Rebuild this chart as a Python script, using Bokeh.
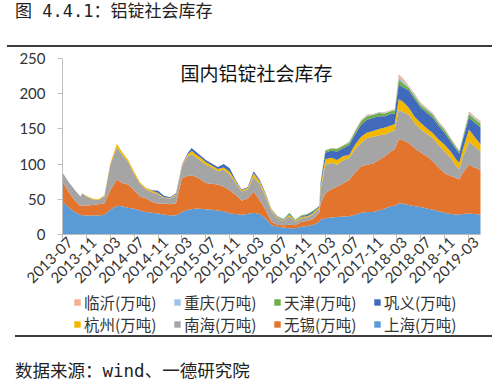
import math
from bokeh.plotting import figure
from bokeh.models import (ColumnDataSource, Range1d, FixedTicker, Legend,
                          LegendItem, Label, Div, LinearAxis)
from bokeh.layouts import column
from bokeh.embed import file_html
from bokeh.resources import INLINE

# ---------------- data (万吨) ----------------
dates = ["2013-07-01", "2013-08-01", "2013-09-01", "2013-10-01", "2013-10-10",
         "2013-11-01", "2013-12-01", "2014-01-01", "2014-02-01", "2014-03-01",
         "2014-04-04", "2014-05-01", "2014-06-01", "2014-07-01", "2014-08-01",
         "2014-09-01", "2014-10-01", "2014-11-01", "2014-12-01", "2015-01-01",
         "2015-02-01", "2015-03-01", "2015-04-01", "2015-04-20", "2015-05-10",
         "2015-06-01", "2015-07-01", "2015-08-01", "2015-09-01", "2015-10-01",
         "2015-11-01", "2015-12-01", "2016-01-01", "2016-02-01", "2016-03-01",
         "2016-04-01", "2016-05-01", "2016-06-01", "2016-07-01", "2016-08-01",
         "2016-09-01", "2016-10-01", "2016-11-01", "2016-12-01", "2017-01-01",
         "2017-02-01", "2017-02-07", "2017-03-01", "2017-04-01", "2017-05-01",
         "2017-06-01", "2017-07-01", "2017-08-01", "2017-09-01", "2017-10-01",
         "2017-11-01", "2017-12-01", "2018-01-01", "2018-02-01", "2018-02-20",
         "2018-03-10", "2018-04-01", "2018-05-01", "2018-06-01", "2018-07-01",
         "2018-08-01", "2018-09-01", "2018-10-01", "2018-11-01", "2018-12-01",
         "2019-01-01", "2019-01-15", "2019-02-01", "2019-03-03", "2019-04-01",
         "2019-05-24"]

shanghai = [47, 39, 32, 28, 27.5, 27, 27, 27, 28, 35,
            41, 40, 38, 36.5, 34, 32, 31, 30, 28, 27.5,
            27, 32, 35, 36, 37, 36.5, 36, 35, 34, 33,
            30, 29, 28, 29, 31, 29, 23, 13, 11, 10,
            9, 9, 11, 12, 14, 18, 21, 23, 24, 25,
            25.5, 26, 28, 31, 32, 32, 34, 37, 40, 41,
            44, 44, 42, 40, 39, 37, 35, 33, 31, 29,
            28.5, 28, 29, 30, 29, 27.5]
wuxi = [28, 22, 17, 12, 14, 14, 15, 16, 16, 28,
        37, 33, 33, 26.5, 20, 19, 15, 14, 16, 15.5,
        17, 48, 48, 48, 45, 42.5, 37, 37, 37, 35,
        33, 27, 20, 22, 30, 20, 12, 5, 2.5, 3,
        5, 4, 7, 7, 8, 13, 22, 35.5, 40, 43,
        47, 51.5, 60, 65.5, 67, 69, 72, 74, 78, 80,
        91, 90, 88, 82, 77, 74, 69, 62, 56, 54,
        51.5, 50, 58, 69, 66, 61.5]
nanhai = [13, 14, 15, 14, 17, 13, 8, 6, 10, 36,
          46, 40, 32, 23, 18, 13, 14, 13, 8, 8,
          12, 17, 28, 30, 28, 27, 26, 23, 19, 24,
          22, 17, 13, 13, 21, 23, 19, 15, 10, 6,
          12, 5, 5, 5, 7, 6, 20, 40.5, 38, 31,
          33, 31, 33, 33.5, 38, 38, 35, 31, 28, 27,
          42, 40, 40, 36, 33, 32, 33, 32, 31, 26,
          16.5, 15, 22, 33, 30, 24]
hangzhou = [0, 0, 0, 0, 0, 1, 1, 1, 1.5, 2,
            5, 4, 3, 3, 2, 2, 2, 2, 1, 1,
            1.5, 1.5, 3, 5, 4, 4, 4, 3, 3, 3,
            4, 2.5, 2, 2, 5, 4, 3, 2, 1.5, 1,
            2, 1, 2, 2, 2, 2, 4, 8, 7, 7,
            6, 4.5, 7, 9, 8, 8, 9, 10, 9, 9,
            15, 15, 10, 9, 9.5, 8, 7, 8, 9.5, 9,
            9.5, 9, 11, 17, 14, 7]
gongyi = [0, 0, 0, 0, 0, 0, 0, 0, 0, 0,
          0, 0, 0, 0, 0, 0, 1, 3, 2, 1,
          1, 0.5, 2, 4, 4, 3, 3, 3, 3, 5,
          5, 2, 1, 1, 3, 2, 1.5, 1, 1, 1,
          1.5, 1, 1, 2, 2, 1, 4, 9, 10, 12,
          11, 14, 14, 17, 18, 19, 18, 16, 16, 15,
          21, 20, 25, 25, 21.5, 22, 22, 19, 16.5, 14,
          14, 13, 13, 17, 20, 27]
tianjin = [0, 0, 0, 0, 0, 0, 0, 0, 0, 0,
           0, 0, 0, 0, 0, 0, 0, 0, 0, 0,
           0, 0, 0, 0, 0, 0, 0, 0, 0, 0,
           0, 0, 0, 0, 0, 0, 0, 0, 0, 1,
           1.5, 1, 1.5, 1, 1, 1, 2, 3, 3, 3.5,
           3.5, 3.5, 4, 5, 5, 4, 4.5, 4, 4, 4,
           7, 6, 3, 4, 4, 4, 4, 4, 4, 3.5,
           3, 3, 3, 5, 5, 5]
chongqing = [0, 0, 0, 0, 0, 0, 0, 0, 0, 0,
             0, 0, 0, 0, 0, 0, 0, 0, 0, 0,
             0, 0, 0, 0, 0, 0, 0, 0, 0, 0,
             0, 0, 0, 0, 0, 0, 0, 0, 0, 0,
             0, 0, 0, 0, 0, 0, 0, 0.5, 0.5, 0.5,
             0.5, 0.8, 1, 1, 1.5, 0.7, 1, 1, 1, 1,
             3.5, 3, 1.5, 2, 1.5, 1.5, 1.5, 1.5, 1.5, 1,
             1, 1, 1, 2, 2, 2]
linyi = [0, 0, 0, 0, 0, 0, 0, 0, 0, 0,
         0, 0, 0, 0, 0, 0, 0, 0, 0, 0,
         0, 0, 0, 0, 0, 0, 0, 0, 0, 0,
         0, 0, 0, 0, 0, 0, 0, 0, 0, 0,
         0, 0, 0, 0, 0, 0, 0, 0.5, 0.5, 0.5,
         0.5, 0.7, 1, 1, 1, 0.3, 0.5, 1, 1, 1,
         4, 4, 1.5, 2, 1.5, 1.5, 1.5, 1.5, 1.5, 1,
         1, 1, 1, 2, 2, 2]

series_names = ["上海(万吨)", "无锡(万吨)", "南海(万吨)", "杭州(万吨)",
                "巩义(万吨)", "天津(万吨)", "重庆(万吨)", "临沂(万吨)"]
series_colors = ["#5B9BD5", "#E2742E", "#A5A5A5", "#F2B800",
                 "#4169BC", "#70AD47", "#9DC3E6", "#F4B08F"]

x_tick_labels = ["2013-07", "2013-11", "2014-03", "2014-07", "2014-11",
                 "2015-03", "2015-07", "2015-11", "2016-03", "2016-07",
                 "2016-11", "2017-03", "2017-07", "2017-11", "2018-03",
                 "2018-07", "2018-11", "2019-03"]
y_ticks = [0, 50, 100, 150, 200, 250]

chart_title = "国内铝锭社会库存"
fig_title = "图 4.4.1：铝锭社会库存"
source_note = "数据来源：wind、一德研究院"


def month_index(s):
    parts = s.split("-")
    yy, mm = int(parts[0]), int(parts[1])
    dd = int(parts[2]) if len(parts) > 2 else 1
    return (yy - 2013) * 12 + (mm - 7) + (dd - 1) / 30.0


CJK = "Noto Sans CJK SC"
NUM = "Lato"

xs = [month_index(d) for d in dates]
all_series = [shanghai, wuxi, nanhai, hangzhou, gongyi, tianjin, chongqing, linyi]
keys = ["s%d" % i for i in range(len(all_series))]
data = {"x": xs}
for k, s in zip(keys, all_series):
    data[k] = s
src = ColumnDataSource(data)

W = 492
xr = Range1d(0, 70)
p = figure(width=W, height=245, output_backend="svg", toolbar_location=None,
           x_range=xr, y_range=Range1d(0, 250),
           min_border_left=62, min_border_right=12, min_border_top=11,
           min_border_bottom=58)
p.outline_line_color = None
p.background_fill_color = "white"
p.border_fill_color = "white"
p.xgrid.visible = False
p.ygrid.visible = False

rs = p.varea_stack(stackers=keys, x="x", color=series_colors, source=src)

# axes: the main x axis carries the line and ticks; a second, line-less
# axis carries the rotated labels so that their ends sit at the ticks
xt = [int(round(month_index(l))) for l in x_tick_labels]
p.xaxis.ticker = FixedTicker(ticks=xt)
p.xaxis.major_label_overrides = {t: "" for t in xt}
p.xaxis.major_label_text_font_size = "1px"
p.xaxis.major_label_standoff = 0
p.yaxis.ticker = FixedTicker(ticks=y_ticks)
for ax in (p.xaxis, p.yaxis):
    ax.axis_line_color = "#BFBFBF"
    ax.axis_line_width = 1
    ax.major_tick_line_color = "#BFBFBF"
    ax.major_tick_in = 0
    ax.major_tick_out = 5
    ax.minor_tick_line_color = None
    ax.major_label_text_color = "#333333"
    ax.major_label_text_font = NUM
p.yaxis.major_label_text_font_size = "15px"
p.yaxis.major_label_standoff = 12

shift = 1.25
lab_ticks = [t + shift for t in xt]
lab_axis = LinearAxis(ticker=FixedTicker(ticks=lab_ticks),
                      major_label_overrides={t: l for t, l in zip(lab_ticks, x_tick_labels)},
                      major_label_orientation=math.pi / 4,
                      axis_line_color=None, major_tick_line_color=None,
                      minor_tick_line_color=None, major_tick_in=0,
                      major_tick_out=0, major_label_standoff=0,
                      major_label_text_font=NUM,
                      major_label_text_font_size="15px",
                      major_label_text_color="#333333")
p.add_layout(lab_axis, "below")

# inner title
p.add_layout(Label(x=118, y=162, x_units="screen", y_units="screen",
                   text=chart_title, text_font=CJK, text_font_size="19px",
                   text_color="#111111", text_baseline="middle"))

# legend strip: same stacked series drawn into a range that keeps them out
# of view, so only the legend entries show
lp = figure(width=W, height=43, output_backend="svg", toolbar_location=None,
            x_range=xr, y_range=Range1d(1000, 1001),
            x_axis_type=None, y_axis_type=None, min_border=0)
lp.outline_line_color = None
lp.border_fill_color = "white"
lrs = lp.varea_stack(stackers=keys, x="x", color=series_colors, source=src)
order = list(reversed(range(len(lrs))))
for row, yoff in ((order[:4], 22), (order[4:], 0)):
    lg = Legend(items=[LegendItem(label=series_names[i], renderers=[lrs[i]])
                       for i in row],
                orientation="horizontal", location=(11, yoff),
                glyph_width=8, glyph_height=8, label_standoff=3, spacing=4,
                padding=0, margin=0, label_width=85, label_height=18,
                border_line_color=None, background_fill_alpha=0,
                label_text_font=CJK, label_text_font_size="15.5px",
                label_text_color="#333333")
    lp.add_layout(lg)

top = Div(width=W, height=47, margin=(0, 0, 0, 0), text=(
    '<div style="position:relative;width:%dpx;height:47px;">'
    '<div style="position:absolute;left:15px;top:3px;white-space:nowrap;'
    'font-family:\'DejaVu Sans Mono\',\'Noto Sans CJK SC\';font-size:17px;'
    'line-height:17px;color:#222;">%s</div>'
    '<div style="position:absolute;left:7px;top:45px;width:%dpx;height:0;'
    'border-top:2px solid #3c3c3c;"></div></div>') % (W, fig_title, W - 7))

bottom = Div(width=W, height=52, margin=(0, 0, 0, 0), text=(
    '<div style="position:relative;width:%dpx;height:52px;">'
    '<div style="position:absolute;left:15px;top:0px;width:%dpx;height:0;'
    'border-top:2px solid #3c3c3c;"></div>'
    '<div style="position:absolute;left:15px;top:28px;white-space:nowrap;'
    'font-family:\'DejaVu Sans Mono\',\'Noto Sans CJK SC\';font-size:17.5px;'
    'line-height:17px;color:#222;">%s</div></div>') % (W, W - 15, source_note))

layout = column(top, p, lp, bottom, spacing=0)
open("out.html", "w").write(file_html(layout, INLINE))
